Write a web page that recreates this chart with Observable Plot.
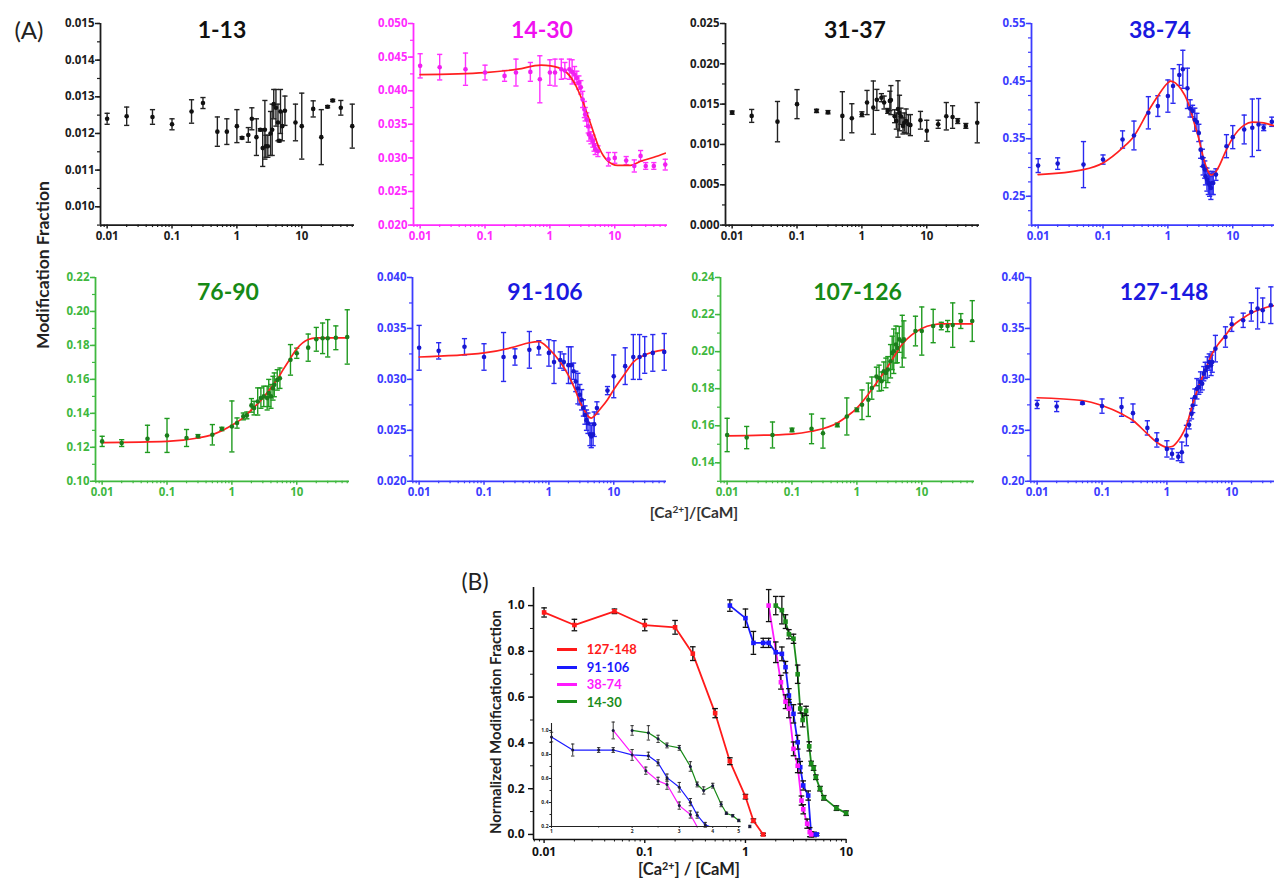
<!DOCTYPE html>
<html><head><meta charset="utf-8">
<script src="https://cdn.jsdelivr.net/npm/d3@7"></script>
<script src="https://cdn.jsdelivr.net/npm/@observablehq/plot@0.6"></script>
<style>
html,body{margin:0;padding:0;background:#fff;overflow:hidden}
#root{position:relative;width:1274px;height:879px;overflow:hidden;background:#fff;font-family:Lato,'Open Sans',sans-serif}
.lbl{position:absolute;white-space:nowrap;line-height:1}
svg{overflow:visible}
#root svg text{font-weight:700;font-family:'Open Sans',Lato,sans-serif}
</style></head><body><div id="root"></div>
<script>
// ---------------- DATA ----------------
// Panel A: shared x ticks
const X_TICKS = [0.01, 0.1, 1, 10];
const X_LABELS = ["0.01", "0.1", "1", "10"];

// 1-13
const p1_x = [0.01,0.02,0.05,0.1,0.2,0.3,0.5,0.7,1.0,1.2,1.5,1.7,2.0,2.3,2.5,2.7,2.8,3.0,3.3,3.5,3.7,4.0,4.3,4.5,4.7,5.0,5.5,8,10,15,20,25,30,40,60];
const p1_y = [0.01240,0.01247,0.01245,0.01225,0.01260,0.01283,0.01205,0.01205,0.01220,0.01188,0.01196,0.01240,0.01190,0.01210,0.01160,0.01210,0.01165,0.01165,0.01200,0.01210,0.01280,0.01270,0.01230,0.01180,0.01260,0.01220,0.01262,0.01230,0.01220,0.01267,0.01190,0.01273,0.01290,0.01270,0.01220];
const p1_e = [0.00015,0.00025,0.0002,0.00015,0.00032,0.00015,0.0004,0.00035,0.00045,0.00003,0.0002,0.0003,0.0005,0.00003,0.0005,0.0008,0.0003,0.0003,0.0006,0.0007,0.0004,0.0005,0.0005,0.00003,0.0006,0.0004,0.0004,0.0005,0.0009,0.00022,0.00075,0.00003,0.00003,0.0002,0.0006];
const p1_yt = [0.010,0.011,0.012,0.013,0.014,0.015];

// 14-30
const p2_x = [0.01,0.02,0.05,0.1,0.2,0.3,0.5,0.7,1.0,1.2,1.5,1.7,2.0,2.2,2.4,2.6,2.8,3.0,3.2,3.4,3.5,3.7,3.9,4.0,4.3,4.6,4.8,5.0,5.5,8,10,15,20,25,30,40,60];
const p2_y = [0.0437,0.0435,0.0432,0.0427,0.0422,0.0427,0.0428,0.0417,0.0427,0.0427,0.0432,0.0430,0.0432,0.0428,0.0424,0.0419,0.0412,0.0405,0.0387,0.0372,0.0365,0.0357,0.0347,0.0335,0.0330,0.0325,0.0319,0.0313,0.0310,0.0298,0.0300,0.0296,0.0288,0.0303,0.0288,0.0288,0.0290];
const p2_e = [0.0018,0.0019,0.0024,0.0011,0.0008,0.002,0.0014,0.0035,0.0019,0.002,0.0015,0.0012,0.0015,0.0018,0.0012,0.001,0.001,0.001,0.0012,0.0012,0.001,0.001,0.001,0.001,0.0009,0.0009,0.0009,0.0008,0.0008,0.001,0.0008,0.0006,0.0009,0.0008,0.0005,0.0005,0.0008];
const p2_fx = [0.01,0.1,0.32,0.73,1.03,1.66,2.37,3.18,4.27,5.74,7.7,11,17.6,25,40,60];
const p2_fy = [0.0424,0.0427,0.0432,0.0438,0.0437,0.0430,0.0412,0.0385,0.0350,0.0315,0.0296,0.0289,0.0289,0.0295,0.0301,0.0307];
const p2_yt = [0.020,0.025,0.030,0.035,0.040,0.045,0.050];

// 31-37
const p3_x = [0.01,0.02,0.05,0.1,0.2,0.3,0.5,0.7,1.0,1.2,1.5,1.7,2.0,2.2,2.5,2.7,2.8,3.2,3.4,3.6,3.8,4.0,4.3,4.5,4.8,5.2,5.6,8,10,15,20,25,30,40,60];
const p3_y = [0.01395,0.01354,0.01283,0.0150,0.01416,0.0140,0.01354,0.01325,0.01375,0.0152,0.01457,0.01553,0.0158,0.0152,0.01416,0.0154,0.0155,0.0135,0.0129,0.0144,0.0139,0.0135,0.0123,0.0127,0.0129,0.0125,0.0124,0.0130,0.0117,0.0125,0.0135,0.0134,0.0129,0.0123,0.0127];
const p3_e = [0.0002,0.0008,0.0025,0.0018,0.0002,0.0002,0.003,0.0018,0.0003,0.0015,0.0033,0.0013,0.0005,0.0008,0.0003,0.0012,0.0018,0.0008,0.001,0.0035,0.0022,0.001,0.001,0.0012,0.0015,0.0012,0.0013,0.0011,0.0013,0.0005,0.0017,0.0014,0.0003,0.0003,0.0025];
const p3_yt = [0.000,0.005,0.010,0.015,0.020,0.025];

// 38-74
const p4_x = [0.01,0.02,0.05,0.1,0.2,0.3,0.5,0.7,1.0,1.2,1.5,1.7,2.0,2.2,2.4,2.6,2.8,3.0,3.2,3.4,3.5,3.7,3.8,4.0,4.2,4.4,4.6,4.8,5.0,5.5,8,10,15,20,25,30,40];
const p4_y = [0.3033,0.3068,0.305,0.3138,0.3486,0.3556,0.395,0.4066,0.424,0.4415,0.4606,0.4705,0.4374,0.4026,0.398,0.383,0.379,0.36,0.331,0.3167,0.302,0.2964,0.2848,0.279,0.2732,0.27,0.2645,0.2732,0.273,0.2877,0.337,0.3527,0.366,0.3689,0.3747,0.369,0.3794];
const p4_e = [0.012,0.01,0.04,0.008,0.015,0.025,0.028,0.018,0.028,0.03,0.018,0.033,0.035,0.015,0.01,0.02,0.015,0.015,0.015,0.015,0.015,0.015,0.015,0.02,0.02,0.02,0.02,0.02,0.02,0.01,0.02,0.02,0.025,0.05,0.045,0.005,0.008];
const p4_fx = [0.01,0.05,0.1,0.2,0.3,0.5,0.7,1.0,1.1,1.3,1.6,2.0,2.5,3.0,3.5,4.0,4.6,5.2,6,8,10,15,20,30,40,60];
const p4_fy = [0.2877,0.2964,0.308,0.334,0.3544,0.398,0.424,0.447,0.45,0.447,0.4357,0.4154,0.3805,0.350,0.318,0.298,0.287,0.289,0.300,0.3312,0.3515,0.3736,0.3788,0.3776,0.3736,0.370];
const p4_yt = [0.25,0.35,0.45,0.55];

// 76-90
const p5_x = [0.01,0.02,0.05,0.1,0.2,0.3,0.5,0.7,1.0,1.2,1.5,1.7,2.0,2.2,2.5,2.8,3.1,3.5,3.7,4.0,4.3,4.5,5.0,5.5,8,10,15,20,25,30,40,60];
const p5_y = [0.1235,0.1225,0.125,0.127,0.1255,0.1265,0.1274,0.1308,0.1323,0.1343,0.1382,0.1388,0.1447,0.1431,0.147,0.149,0.150,0.149,0.152,0.150,0.1548,0.1568,0.1597,0.1607,0.1715,0.1754,0.1787,0.1836,0.1842,0.1842,0.1845,0.185];
const p5_e = [0.003,0.002,0.008,0.01,0.005,0.001,0.006,0.001,0.015,0.003,0.002,0.002,0.004,0.004,0.008,0.006,0.006,0.007,0.008,0.007,0.007,0.007,0.006,0.006,0.009,0.003,0.008,0.007,0.009,0.011,0.007,0.016];
const p5_fx = [0.01,0.1,0.3,0.5,1,1.5,2,3,4,5,6,8,10,15,20,30,60];
const p5_fy = [0.1228,0.1235,0.1255,0.1275,0.133,0.1375,0.142,0.149,0.155,0.160,0.165,0.1725,0.178,0.1835,0.1845,0.1845,0.1845];
const p5_yt = [0.10,0.12,0.14,0.16,0.18,0.20,0.22];

// 91-106
const p6_x = [0.01,0.02,0.05,0.1,0.2,0.3,0.5,0.7,1.0,1.2,1.5,1.7,2.0,2.2,2.4,2.6,2.8,3.0,3.2,3.4,3.6,3.8,4.0,4.3,4.5,4.8,5.0,5.5,8,10,15,20,25,30,40,60];
const p6_y = [0.0331,0.0328,0.0332,0.0322,0.0322,0.0322,0.0329,0.0331,0.0326,0.0317,0.0319,0.0317,0.0314,0.0314,0.0308,0.0298,0.0291,0.0285,0.0280,0.0272,0.0265,0.0260,0.0257,0.0246,0.0244,0.0246,0.0256,0.0272,0.0289,0.0303,0.0313,0.0322,0.0322,0.0324,0.0326,0.0327];
const p6_e = [0.0022,0.0008,0.0008,0.0013,0.0024,0.0008,0.0018,0.0007,0.0013,0.0021,0.0008,0.0008,0.0018,0.0018,0.0008,0.001,0.0015,0.001,0.001,0.0008,0.0009,0.001,0.001,0.0011,0.0011,0.0011,0.0012,0.0006,0.0004,0.0021,0.0018,0.0022,0.0022,0.0018,0.0018,0.0018];
const p6_fx = [0.01,0.1,0.3,0.5,0.7,1.0,1.5,2.0,2.5,3,3.5,4,4.5,5,6,8,10,15,20,30,60];
const p6_fy = [0.0322,0.0326,0.0332,0.0336,0.0337,0.0330,0.0317,0.0304,0.0291,0.0278,0.0270,0.0264,0.0262,0.0264,0.0270,0.0280,0.0290,0.0306,0.0317,0.0324,0.0329];
const p6_yt = [0.020,0.025,0.030,0.035,0.040];

// 107-126
const p7_x = [0.01,0.02,0.05,0.1,0.2,0.3,0.5,0.7,1.0,1.2,1.5,1.7,2.0,2.2,2.4,2.6,2.8,3.0,3.3,3.5,3.7,4.0,4.2,4.5,5.0,5.3,8,10,15,20,25,30,40,60];
const p7_y = [0.155,0.1536,0.155,0.1577,0.1583,0.1559,0.1604,0.165,0.1686,0.1713,0.174,0.1803,0.1866,0.1857,0.184,0.1894,0.1885,0.1903,0.1948,0.1993,0.2002,0.2038,0.202,0.2066,0.2056,0.2066,0.2111,0.2111,0.2138,0.2138,0.2138,0.2143,0.2165,0.2165];
const p7_e = [0.009,0.006,0.007,0.001,0.008,0.008,0.001,0.01,0.001,0.008,0.009,0.006,0.005,0.007,0.005,0.005,0.008,0.007,0.009,0.009,0.012,0.01,0.008,0.007,0.014,0.01,0.008,0.013,0.009,0.002,0.003,0.012,0.004,0.011];
const p7_fx = [0.01,0.1,0.2,0.5,0.7,1,1.5,2,3,4,5,7,10,15,20,60];
const p7_fy = [0.1545,0.1555,0.157,0.1615,0.165,0.1695,0.177,0.183,0.192,0.199,0.204,0.209,0.2125,0.2145,0.215,0.215];
const p7_yt = [0.14,0.16,0.18,0.20,0.22,0.24];

// 127-148
const p8_x = [0.01,0.02,0.05,0.1,0.2,0.3,0.5,0.7,1.0,1.2,1.5,1.7,2.0,2.2,2.4,2.5,2.7,2.9,3.1,3.3,3.5,3.7,3.9,4.2,4.5,4.8,5.0,5.6,8,10,15,20,25,30,40];
const p8_y = [0.2754,0.2734,0.2767,0.2738,0.2728,0.2669,0.2524,0.2406,0.2318,0.2269,0.2242,0.2285,0.2449,0.2554,0.2662,0.2744,0.2826,0.2908,0.2924,0.2974,0.2957,0.3056,0.3088,0.3121,0.317,0.3138,0.317,0.3302,0.3416,0.3541,0.358,0.3662,0.3695,0.3679,0.3728];
const p8_e = [0.004,0.005,0.001,0.007,0.009,0.009,0.007,0.007,0.008,0.005,0.004,0.01,0.01,0.004,0.005,0.007,0.008,0.01,0.007,0.01,0.006,0.007,0.008,0.01,0.008,0.01,0.01,0.013,0.01,0.007,0.007,0.009,0.02,0.012,0.018];
const p8_fx = [0.01,0.05,0.1,0.2,0.3,0.5,0.7,1.0,1.2,1.5,1.8,2.0,2.5,3,4,5,6,8,10,15,20,30,40,60];
const p8_fy = [0.282,0.2793,0.2744,0.2662,0.2597,0.2466,0.2383,0.2334,0.2341,0.24,0.2482,0.2547,0.276,0.2908,0.3105,0.3252,0.3334,0.3433,0.3515,0.3603,0.3652,0.3695,0.3718,0.374];
const p8_yt = [0.20,0.25,0.30,0.35,0.40];

// Panel B
const bRed_x = [0.01,0.02,0.05,0.1,0.2,0.3,0.5,0.7,1.0,1.2,1.5];
const bRed_y = [0.97,0.915,0.975,0.915,0.905,0.79,0.53,0.32,0.165,0.06,0.0];
const bRed_e = [0.02,0.025,0.01,0.025,0.03,0.03,0.02,0.015,0.01,0.008,0.005];
const bBlue_x = [0.7,1.0,1.2,1.5,1.7,2.0,2.3,2.5,2.7,3.0,3.3,3.5,3.75,4.2,4.5,4.8,5.1];
const bBlue_y = [1.0,0.945,0.837,0.837,0.837,0.796,0.789,0.731,0.607,0.527,0.403,0.294,0.214,0.17,0.0,0.0,0.0];
const bBlue_e = [0.025,0.04,0.05,0.02,0.02,0.045,0.03,0.025,0.03,0.04,0.03,0.025,0.02,0.02,0.01,0.01,0.005];
const bMag_x = [1.7,2.25,2.5,2.7,3.0,3.3,3.6,3.75,4.1,4.35,4.5];
const bMag_y = [1.0,0.665,0.58,0.55,0.374,0.30,0.148,0.11,0.047,0.01,0.0];
const bMag_e = [0.07,0.03,0.03,0.04,0.03,0.03,0.02,0.02,0.02,0.02,0.01];
const bGrn_x = [2.0,2.3,2.5,2.7,3.0,3.3,3.5,3.7,4.0,4.3,4.5,4.75,5.0,5.5,6.0,8.0,10];
const bGrn_y = [1.0,0.98,0.93,0.875,0.855,0.70,0.55,0.50,0.54,0.385,0.31,0.29,0.25,0.20,0.16,0.115,0.093];
const bGrn_e = [0.04,0.06,0.03,0.02,0.02,0.04,0.02,0.03,0.02,0.02,0.01,0.01,0.01,0.01,0.01,0.01,0.01];
const b_yt = [0.0,0.2,0.4,0.6,0.8,1.0];
const inset_xt = [1,2,3,4,5];
const inset_yt = [0.2,0.4,0.6,0.8,1.0];
const legendNames = ["127-148","91-106","38-74","14-30"];

// ---------------- RENDERING ----------------
const FONT = "Lato, 'Open Sans', sans-serif";
const TFONT = "'Open Sans', Lato, sans-serif";
const root = document.getElementById("root");
const RED = "#ff2020";
const cap = {draw(ctx, size){ const w = Math.sqrt(size/Math.PI); ctx.moveTo(-w,0); ctx.lineTo(w,0); }};
function put(el, left, top){ el.style.position="absolute"; el.style.left=left+"px"; el.style.top=top+"px"; root.appendChild(el); }
function label(html, cx, cy, size, color, opts={}) {
  const d = document.createElement("div");
  d.className = "lbl"; d.innerHTML = html;
  Object.assign(d.style, {left: cx+"px", top: cy+"px", fontSize: size+"px", color,
    fontWeight: opts.weight || "bold", fontFamily: opts.font || FONT,
    transform: `translate(-50%,-50%) rotate(${opts.rot||0}deg)`});
  root.appendChild(d);
}
const zip = (xs, ys, es) => xs.map((x,i)=>({x, y: ys[i], e: es ? es[i] : 0}));

const XDOM = [0.0079, 65];
const xMinor = [];
for (const d of [0.001,0.01,0.1,1,10]) for (let k=2;k<=9;k++){ const v=d*k; if (v>XDOM[0] && v<XDOM[1]) xMinor.push(v); }

function panelA(c) {
  const ML=50, MR=6, MT=6, MB=28, W=254;
  const H = c.bottom - c.top;
  const pts = zip(c.x, c.y, c.e);
  const fit = c.fx ? zip(c.fx, c.fy) : [];
  const step = c.yt[1]-c.yt[0];
  const sub = c.sub || 2;
  const yMinor = [];
  for (let v = c.ymin; v <= c.ymax + 1e-9; v += step/sub) yMinor.push(+v.toFixed(6));
  const marks = [
    Plot.axisX({ticks: X_TICKS, tickFormat: d => X_LABELS[X_TICKS.indexOf(d)], tickSize: 4, tickPadding: 3, stroke: c.axis, fill: c.axis, strokeWidth: 1.5, fontWeight: "bold", label: null}),
    Plot.axisX({ticks: xMinor, tickFormat: () => "", tickSize: 2.5, stroke: c.axis, strokeWidth: 1.2, label: null}),
    Plot.axisY({ticks: c.yt, tickFormat: d3.format(c.fmt), tickSize: 5, tickPadding: 1, stroke: c.axis, fill: c.axis, strokeWidth: 1.5, fontWeight: "bold", label: null}),
    Plot.axisY({ticks: yMinor, tickFormat: () => "", tickSize: 3, stroke: c.axis, strokeWidth: 1.2, label: null}),
    Plot.ruleX([XDOM[0]], {stroke: c.axis, strokeWidth: 1.8}),
    Plot.ruleY([c.ymin], {stroke: c.axis, strokeWidth: 1.8}),
    Plot.ruleX(pts, {x: "x", y1: d => d.y - d.e, y2: d => d.y + d.e, stroke: c.err, strokeWidth: 1.4}),
    Plot.dot(pts, {x: "x", y: d => d.y + d.e, symbol: cap, r: 2.6, stroke: c.err, strokeWidth: 1.4}),
    Plot.dot(pts, {x: "x", y: d => d.y - d.e, symbol: cap, r: 2.6, stroke: c.err, strokeWidth: 1.4}),
    Plot.line(fit, {x: "x", y: "y", stroke: RED, strokeWidth: 1.7, curve: "monotone-x", clip: true}),
    Plot.dot(pts, {x: "x", y: "y", r: 2.3, fill: c.pt, stroke: "none"})
  ];
  const p = Plot.plot({
    width: ML+W+MR, height: MT+H+MB,
    marginLeft: ML, marginRight: MR, marginTop: MT, marginBottom: MB,
    style: {background: "transparent", fontFamily: TFONT, fontSize: "11.5px", fontWeight: "bold", overflow: "visible"},
    x: {type: "log", domain: XDOM, label: null},
    y: {domain: [c.ymin, c.ymax], label: null},
    marks
  });
  put(p, c.left - ML, c.top - MT);
  label(c.title, c.tx, c.ty, 23, c.tc);
}

const BLK = {axis: "#1c1c1c", pt: "#111", err: "#222", tc: "#111"};
const MAG = {axis: "#ff2cff", pt: "#f020f0", err: "#ff30ff", tc: "#f010f0"};
const BLU = {axis: "#3c3cff", pt: "#1717d0", err: "#2a2af0", tc: "#1a1ae0"};
const GRN = {axis: "#3fb83f", pt: "#1b7d1b", err: "#1f9a1f", tc: "#168a16"};

const R1T = 22.7, R1B = 224.3, R2T = 276.5, R2B = 480.3;
panelA({...BLK, title:"1-13", x:p1_x, y:p1_y, e:p1_e, yt:p1_yt, fmt:".3f", ymin:0.0095, ymax:0.015, left:100, top:R1T, bottom:R1B, tx:222, ty:29});
panelA({...MAG, title:"14-30", x:p2_x, y:p2_y, e:p2_e, fx:p2_fx, fy:p2_fy, yt:p2_yt, fmt:".3f", ymin:0.020, ymax:0.050, left:413, top:R1T, bottom:R1B, tx:542, ty:29});
panelA({...BLK, title:"31-37", x:p3_x, y:p3_y, e:p3_e, yt:p3_yt, fmt:".3f", ymin:0.0, ymax:0.025, left:725, top:R1T, bottom:R1B, tx:855, ty:29});
panelA({...BLU, title:"38-74", x:p4_x, y:p4_y, e:p4_e, fx:p4_fx, fy:p4_fy, yt:p4_yt, fmt:".2f", sub:4, ymin:0.20, ymax:0.55, left:1031, top:R1T, bottom:R1B, tx:1160, ty:29});
panelA({...GRN, title:"76-90", x:p5_x, y:p5_y, e:p5_e, fx:p5_fx, fy:p5_fy, yt:p5_yt, fmt:".2f", ymin:0.10, ymax:0.22, left:95, top:R2T, bottom:R2B, tx:228, ty:290.5});
panelA({...BLU, title:"91-106", x:p6_x, y:p6_y, e:p6_e, fx:p6_fx, fy:p6_fy, yt:p6_yt, fmt:".3f", ymin:0.020, ymax:0.040, left:412.3, top:R2T, bottom:R2B, tx:545, ty:290.5});
panelA({...GRN, title:"107-126", x:p7_x, y:p7_y, e:p7_e, fx:p7_fx, fy:p7_fy, yt:p7_yt, fmt:".2f", ymin:0.13, ymax:0.24, left:720, top:R2T, bottom:R2B, tx:857.5, ty:290.5});
panelA({...BLU, title:"127-148", x:p8_x, y:p8_y, e:p8_e, fx:p8_fx, fy:p8_fy, yt:p8_yt, fmt:".2f", ymin:0.20, ymax:0.40, left:1030, top:R2T, bottom:R2B, tx:1164, ty:290.5});

label("(A)", 29, 30, 24, "#222", {weight: "normal"});
label("Modification Fraction", 42.5, 265, 17.5, "#222", {rot: -90});
label("[Ca<sup style='font-size:0.65em;vertical-align:0.45em'>2+</sup>]/[CaM]", 694, 512, 15.5, "#333");

// ---------------- Panel B ----------------
const bSeries = [
  {name: legendNames[0], color: "#ff1a1a", d: zip(bRed_x, bRed_y, bRed_e)},
  {name: legendNames[1], color: "#1a1aff", d: zip(bBlue_x, bBlue_y, bBlue_e)},
  {name: legendNames[2], color: "#ff1aff", d: zip(bMag_x, bMag_y, bMag_e)},
  {name: legendNames[3], color: "#1a8c1a", d: zip(bGrn_x, bGrn_y, bGrn_e)}
];
(function panelB(){
  const L=532.7, R=846, T=587, Bt=839;
  const ML=46, MR=8, MT=4, MB=26;
  const XD = [0.00785, 10.15];
  const bxMinor = [];
  for (const d of [0.001,0.01,0.1,1]) for (let k=2;k<=9;k++){ const v=d*k; if (v>XD[0] && v<XD[1]) bxMinor.push(v); }
  const marks = [
    Plot.axisX({ticks: X_TICKS, tickFormat: d => X_LABELS[X_TICKS.indexOf(d)], tickSize: 4, tickPadding: 4, stroke: "#111", fill: "#111", strokeWidth: 1.4, fontWeight: "bold", label: null}),
    Plot.axisX({ticks: bxMinor, tickFormat: () => "", tickSize: 2.5, stroke: "#111", label: null}),
    Plot.axisY({ticks: b_yt, tickFormat: d3.format(".1f"), tickSize: 5, tickPadding: 4, stroke: "#111", fill: "#111", strokeWidth: 1.4, fontWeight: "bold", label: null}),
    Plot.axisY({ticks: d3.range(0, 1.05, 0.1), tickFormat: () => "", tickSize: 3, stroke: "#111", label: null}),
    Plot.ruleX([XD[0]], {stroke: "#111", strokeWidth: 1.6}),
    Plot.ruleY([-0.022], {stroke: "#111", strokeWidth: 1.6})
  ];
  for (const s of bSeries) {
    marks.push(Plot.line(s.d, {x: "x", y: "y", stroke: s.color, strokeWidth: 1.8}));
  }
  for (const s of bSeries) {
    marks.push(Plot.ruleX(s.d, {x: "x", y1: d => d.y - d.e, y2: d => d.y + d.e, stroke: "#111", strokeWidth: 1.3}));
    marks.push(Plot.dot(s.d, {x: "x", y: d => d.y + d.e, symbol: cap, r: 2.8, stroke: "#111", strokeWidth: 1.3}));
    marks.push(Plot.dot(s.d, {x: "x", y: d => d.y - d.e, symbol: cap, r: 2.8, stroke: "#111", strokeWidth: 1.3}));
    marks.push(Plot.dot(s.d, {x: "x", y: "y", symbol: "square", r: 2.6, fill: s.color, stroke: "none"}));
  }
  const p = Plot.plot({
    width: ML+(R-L)+MR, height: MT+(Bt-T)+MB,
    marginLeft: ML, marginRight: MR, marginTop: MT, marginBottom: MB,
    style: {background: "transparent", fontFamily: TFONT, fontSize: "12px", fontWeight: "bold", overflow: "visible"},
    x: {type: "log", domain: XD, label: null},
    y: {domain: [-0.022, 1.079], label: null},
    marks
  });
  put(p, L - ML, T - MT);

  // inset
  const IL=550.5, IR=740, IT=723, IB=826;
  const iML=14, iMR=4, iMT=3, iMB=12;
  const IXD = [1, 5.1], IYD = [0.2, 1.058];
  const imarks = [
    Plot.axisX({ticks: inset_xt, tickFormat: d => String(d), tickSize: 2, tickPadding: 1, stroke: "#222", fill: "#222", label: null}),
    Plot.axisX({ticks: [1.5,2.5,3.5,4.5], tickFormat: () => "", tickSize: 1.5, stroke: "#222", label: null}),
    Plot.axisY({ticks: inset_yt, tickFormat: d3.format(".1f"), tickSize: 2, tickPadding: 1, stroke: "#222", fill: "#222", label: null}),
    Plot.axisY({ticks: [0.3,0.5,0.7,0.9], tickFormat: () => "", tickSize: 1.5, stroke: "#222", label: null}),
    Plot.ruleX([IXD[0]], {stroke: "#222", strokeWidth: 1.1}),
    Plot.ruleY([IYD[0]], {stroke: "#222", strokeWidth: 1.1})
  ];
  for (const s of bSeries.slice(1)) {
    imarks.push(Plot.line(s.d, {x: "x", y: "y", stroke: s.color, strokeWidth: 1.2, clip: true}));
  }
  for (const s of bSeries.slice(1)) {
    const inD = s.d.filter(d => d.x >= IXD[0] && d.y >= IYD[0]);
    imarks.push(Plot.ruleX(inD, {x: "x", y1: d => d.y - d.e, y2: d => d.y + d.e, stroke: "#222", strokeWidth: 0.9}));
    imarks.push(Plot.dot(inD, {x: "x", y: d => d.y + d.e, symbol: cap, r: 1.7, stroke: "#222", strokeWidth: 0.9}));
    imarks.push(Plot.dot(inD, {x: "x", y: d => d.y - d.e, symbol: cap, r: 1.7, stroke: "#222", strokeWidth: 0.9}));
    imarks.push(Plot.dot(inD, {x: "x", y: "y", r: 1.5, fill: "#1a1a40", stroke: "none"}));
  }
  const ip = Plot.plot({
    width: iML+(IR-IL)+iMR, height: iMT+(IB-IT)+iMB,
    marginLeft: iML, marginRight: iMR, marginTop: iMT, marginBottom: iMB,
    style: {background: "transparent", fontFamily: TFONT, fontSize: "5px", fontWeight: "bold", overflow: "visible"},
    x: {type: "log", domain: IXD, label: null},
    y: {domain: IYD, label: null},
    marks: imarks
  });
  put(ip, IL - iML, IT - iMT);

  // legend
  const ly = [649.3, 667.3, 684.3, 701.7];
  bSeries.forEach((s, i) => {
    const ln = document.createElement("div");
    Object.assign(ln.style, {width: "20px", height: "3px", background: s.color});
    put(ln, 556.7, ly[i] - 1.5);
    const t = document.createElement("div");
    t.className = "lbl"; t.textContent = s.name;
    Object.assign(t.style, {fontSize: "13px", fontWeight: "bold", color: s.color, fontFamily: FONT, transform: "translateY(-50%)"});
    put(t, 586.7, ly[i]);
  });
})();

label("(B)", 475, 581, 23, "#222", {weight: "normal"});
label("Normalized Modification Fraction", 495, 722, 15, "#222", {rot: -90});
label("[Ca<sup style='font-size:0.65em;vertical-align:0.45em'>2+</sup>] / [CaM]", 689, 869, 16.5, "#222");
</script></body></html>
